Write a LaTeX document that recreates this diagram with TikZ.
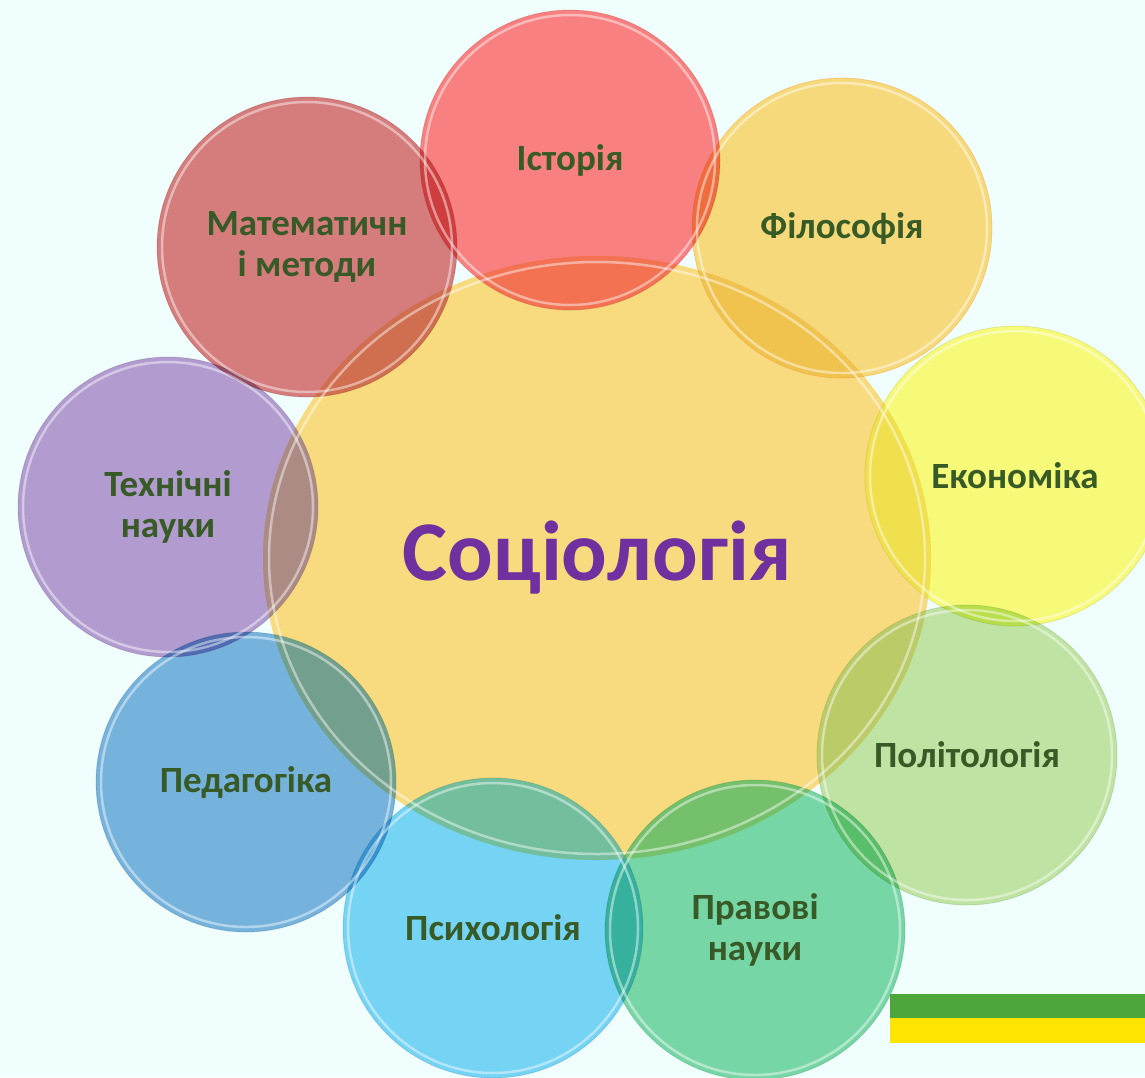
\documentclass[tikz,border=0pt]{standalone}
\usepackage{xcolor}
\usepackage{fontspec}
\setmainfont{Carlito}
\usepackage{tikz}
\usetikzlibrary{shapes.geometric, positioning}

\definecolor{bgcyan}{HTML}{F0FFFD}
\definecolor{labelgreen}{HTML}{375A27}
\definecolor{socpurple}{HTML}{7030A0}
\definecolor{hubyellow}{HTML}{F7DB7E}
\definecolor{histred}{HTML}{F88080}
\definecolor{philyellow}{HTML}{F6D97A}
\definecolor{econyellow}{HTML}{F6FA78}
\definecolor{polgreen}{HTML}{BFE3A2}
\definecolor{lawgreen}{HTML}{77D6A6}
\definecolor{psyblue}{HTML}{75D3F3}
\definecolor{pedblue}{HTML}{76B3DC}
\definecolor{techlilac}{HTML}{B19BCF}
\definecolor{mathred}{HTML}{D57C7C}
\definecolor{bargreen}{HTML}{4CA63A}
\definecolor{baryellow}{HTML}{FFE400}

\begin{document}
\begin{tikzpicture}[
    x=1pt, y=-1pt,
    bubble/.style={circle, minimum size=300pt, inner sep=0pt, draw opacity=0.25, line width=0.8pt},
    hub/.style={ellipse, minimum width=668pt, minimum height=604pt, inner sep=0pt, fill=hubyellow},
    tag/.style={align=center, font=\fontsize{37}{41}\selectfont\bfseries, text=labelgreen},
    rim/.style={draw=white, draw opacity=0.45, line width=2.5pt},
]
\useasboundingbox (0,0) rectangle (1145,1077);
\fill[bgcyan] (0,0) rectangle (1145,1077);
\clip (0,0) rectangle (1145,1077);

% white ground under the shapes, so multiply keeps their colours
\fill[white] (597,558) ellipse[x radius=334pt, y radius=302pt];
\foreach \x/\y in {570/160, 842/228, 1015/476, 967/755, 755/930, 493/928, 246/782, 168/507, 307/247}
  \fill[white] (\x,\y) circle[radius=150pt];

\begin{scope}[blend mode=multiply]
% centre
\node[hub] (socio) at (597,558) {};
% neighbouring sciences, clockwise from the top
\node[bubble, fill=histred, draw=histred!70!black] (history) at (570,160) {};
\node[bubble, fill=philyellow, draw=orange] (philosophy) at (842,228) {};
\node[bubble, fill=econyellow, draw=econyellow!70!black] (economics) at (1015,476) {};
\node[bubble, fill=polgreen, draw=polgreen!70!black] (politics) at (967,755) {};
\node[bubble, fill=lawgreen, draw=lawgreen!70!black] (law) at (755,930) {};
\node[bubble, fill=psyblue, draw=psyblue!70!black] (psychology) at (493,928) {};
\node[bubble, fill=pedblue, draw=pedblue!70!black] (pedagogy) at (246,782) {};
\node[bubble, fill=techlilac, draw=techlilac!70!black] (technical) at (168,507) {};
\node[bubble, fill=mathred, draw=mathred!70!black] (maths) at (307,247) {};
\end{scope}

% soften the overlaps with the centre
\begin{scope}
\clip (socio.center) ellipse[x radius=334pt, y radius=302pt];
\foreach \n/\c in {history/histred, philosophy/philyellow, economics/econyellow, politics/polgreen, law/lawgreen, psychology/psyblue, pedagogy/pedblue, technical/techlilac, maths/mathred}
  \fill[\c, opacity=0.3] (\n.center) circle[radius=150pt];
\end{scope}

% glossy rims
\draw[rim] (socio.center) ellipse[x radius=328pt, y radius=296pt];
\foreach \n in {history, philosophy, economics, politics, law, psychology, pedagogy, technical, maths}
  \draw[rim] (\n.center) circle[radius=145pt];

% labels
\node[font=\fontsize{85}{90}\selectfont\bfseries, text=socpurple] (sociotext) at (socio.center) {Соціологія};
\node[tag] (historytext) at (history) {Історія};
\node[tag] (philosophytext) at (philosophy) {Філософія};
\node[tag] (economicstext) at (economics) {Економіка};
\node[tag] (politicstext) at (politics) {Політологія};
\node[tag] (lawtext) at (law) {Правові\\науки};
\node[tag] (psychologytext) at (psychology) {Психологія};
\node[tag] (pedagogytext) at (pedagogy) {Педагогіка};
\node[tag] (technicaltext) at (technical) {Технічні\\науки};
\node[tag] (mathstext) at (maths) {Математичн\\і методи};

% flag stripes
\fill[bargreen] (890,994) rectangle (1145,1018);
\fill[baryellow] (890,1018) rectangle (1145,1043);
\end{tikzpicture}
\end{document}
